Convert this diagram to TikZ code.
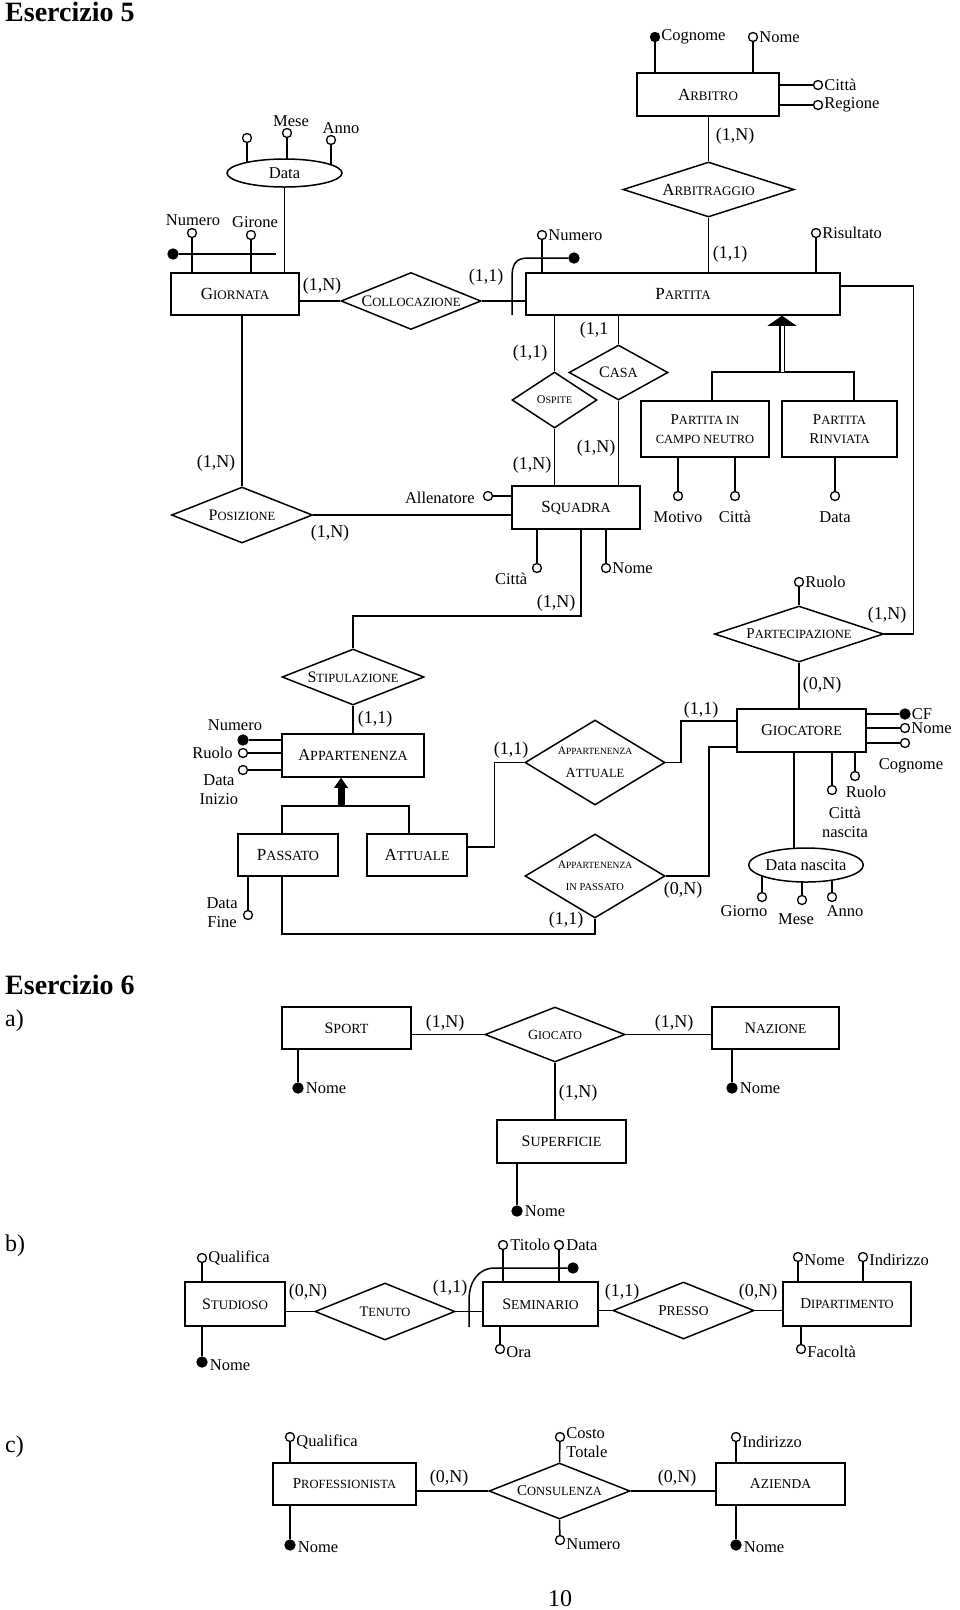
\documentclass[tikz,border=0pt]{standalone}
\usepackage{fontspec}
\setmainfont{Liberation Serif}
\usetikzlibrary{shapes.geometric,backgrounds,calc}
\newcommand\SCx[4]{{\fontsize{#1}{#1}\selectfont #3}{\fontsize{#2}{#2}\selectfont #4}}
\newcommand\SC[2]{\SCx{17}{13}{#1}{#2}}
\newcommand\labf{\fontsize{16.5}{19}\selectfont}
\newcommand\cardf{\fontsize{18}{18}\selectfont}
\newcommand\headf{\fontsize{28}{28}\selectfont\bfseries}
\newcommand\partf{\fontsize{24}{24}\selectfont}
\tikzset{
  ln/.style={line width=1.5pt},
  ent/.style={draw, rectangle, ln, fill=white, inner sep=0pt, align=center},
  rel/.style={draw, diamond, ln, fill=white, inner sep=0pt},
  ell/.style={draw, ellipse, ln, fill=white, inner sep=0pt, font=\labf},
  att/.style={draw, circle, line width=1.3pt, fill=white, inner sep=0pt, minimum size=9pt, label distance=2pt},
  katt/.style={att, fill=black},
  card/.style={font=\cardf, inner sep=0pt},
  every label/.append style={font=\labf, inner sep=1pt},
}
\begin{document}
\begin{tikzpicture}[x=1pt,y=-1pt]
\useasboundingbox (0,0) rectangle (960,1610);

% ================= Esercizio 5 =================
\node[anchor=base west, font=\headf, inner sep=0pt] (t5) at (5,21) {Esercizio 5};

% ARBITRO
\node[ent, minimum width=142pt, minimum height=43pt] (arbitro) at (708,94.5) {\SC{A}{RBITRO}};
\node[katt, label=right:Cognome] (acogn) at (655,37) {};
\node[att, label=right:Nome] (anome) at (753,37) {};
\node[att, label=right:Città] (acitta) at (818,85) {};
\node[att, label=right:Regione] (areg) at (818,105) {};
\node[rel, minimum width=171pt, minimum height=55pt, label=center:{\SC{A}{RBITRAGGIO}}] (arbitraggio) at (708.5,189.5) {};
\node[card] (c1) at (735,136) {(1,N)};
\node[card] (c2) at (730,254) {(1,1)};

% PARTITA
\node[ent, minimum width=314pt, minimum height=42pt] (partita) at (683,294) {\SC{P}{ARTITA}};
\node[att, label=right:Risultato] (risultato) at (816,233) {};
\node[att, label=right:Numero] (pnum) at (542,235) {};
\node[katt, minimum size=10pt] (pkey) at (574,258) {};
\coordinate (pkeyend) at (512,315);

% GIORNATA
\node[ent, minimum width=128pt, minimum height=42pt] (giornata) at (235,294) {\SC{G}{IORNATA}};
\node[ell, minimum width=115pt, minimum height=28pt] (data) at (284.5,173) {Data};
\node[att] (dd1) at (247,138) {};
\node[att, label={[xshift=4pt, label distance=0pt]above:Mese}] (dd2) at (287,133) {};
\node[att, label={[xshift=10pt, label distance=0pt]above:Anno}] (dd3) at (331,140) {};
\node[att, label={[xshift=1pt, label distance=1pt]above:Numero}] (gnum) at (192,233) {};
\node[att, label={[xshift=4pt, label distance=1pt]above:Girone}] (gir) at (251,235) {};
\node[katt, minimum size=10pt] (gkey) at (173,254) {};
\coordinate (gkeyend) at (276,254);

\node[rel, minimum width=140pt, minimum height=57pt, label=center:{\SCx{16}{12.5}{C}{OLLOCAZIONE}}] (coll) at (411,301) {};
\node[card] (c3) at (322,286) {(1,N)};
\node[card] (c4) at (486,277) {(1,1)};

% POSIZIONE
\node[rel, minimum width=141pt, minimum height=56pt, label=center:{\SCx{16}{12.5}{P}{OSIZIONE}}] (posizione) at (242,515) {};
\node[card] (c5) at (216,463) {(1,N)};
\node[card] (c6) at (330,533) {(1,N)};

% SQUADRA
\node[ent, minimum width=128pt, minimum height=43pt] (squadra) at (576,507.5) {\SCx{17}{14}{S}{QUADRA}};
\node[att, label={[label distance=7pt, yshift=-2pt]left:Allenatore}] (allen) at (488,496) {};
\node[att, label={[anchor=north east, xshift=-5pt, label distance=0pt]south west:Città}] (scitta) at (537,568) {};
\node[att, label=right:Nome] (snome) at (606,568) {};

% OSPITE, CASA
\node[rel, minimum width=85pt, minimum height=56pt, label=center:{\SCx{12}{10}{O}{SPITE}}] (ospite) at (554.5,400) {};
\node[rel, minimum width=99pt, minimum height=55pt, label=center:{\SCx{16}{14}{C}{ASA}}] (casa) at (618.5,372.5) {};
\node[card] (c7) at (530,353) {(1,1)};
\node[card] (c8) at (532,465) {(1,N)};
\node[card] (c9) at (594,330) {(1,1};
\node[card] (c10) at (596,448) {(1,N)};

% generalization of PARTITA
\node[ent, minimum width=128pt, minimum height=56pt] (pcn) at (705,429) {\SCx{15}{12.5}{P}{ARTITA IN}\\[7pt]\SCx{12.5}{12.5}{}{CAMPO NEUTRO}};
\node[ent, minimum width=115pt, minimum height=56pt] (pri) at (839.5,429) {\SCx{15}{12.7}{P}{ARTITA}\\[7pt]\SCx{15}{12.7}{R}{INVIATA}};
\coordinate (gbar) at (782,372);
\node[att, label={[label distance=9pt]below:Motivo}] (motivo) at (678,496) {};
\node[att, label={[label distance=9pt]below:Città}] (pcitta) at (735,496) {};
\node[att, label={[label distance=9pt]below:Data}] (pdata) at (835,496) {};

% PARTECIPAZIONE
\node[rel, minimum width=169pt, minimum height=56pt, label=center:{\SCx{15}{12.5}{P}{ARTECIPAZIONE}}] (partecip) at (799,634) {};
\node[att, label=right:Ruolo] (pruolo) at (799,582) {};
\node[card] (c11) at (887,615) {(1,N)};
\node[card] (c12) at (822,685) {(0,N)};

% GIOCATORE
\node[ent, minimum width=129pt, minimum height=43pt] (giocatore) at (801.5,730.5) {\SCx{16.5}{14}{G}{IOCATORE}};
\node[katt, minimum size=10pt, label=right:CF] (gcf) at (905,714) {};
\node[att, label=right:Nome] (gnome) at (905,728) {};
\node[att, label={[label distance=9pt, xshift=6pt]below:Cognome}] (gcogn) at (905,743) {};
\node[att, label={[label distance=4pt, xshift=11pt]below:Ruolo}] (gruolo) at (855,776) {};
\node[att, label={[align=center, label distance=11pt, xshift=13pt]below:{Città\\nascita}}] (gcitta) at (832,790) {};
\node[ell, minimum width=114pt, minimum height=34pt] (dn) at (806,865) {Data nascita};
\node[att, label={[label distance=2pt, xshift=-18pt]below:Giorno}] (dn1) at (762,897) {};
\node[att, label={[label distance=7pt, xshift=-6pt]below:Mese}] (dn2) at (802,900) {};
\node[att, label={[label distance=2pt, xshift=13pt]below:Anno}] (dn3) at (832,897) {};

% APPARTENENZA ATTUALE / IN PASSATO
\node[rel, minimum width=140pt, minimum height=85pt, label={[align=center]center:{\SCx{11.5}{9.5}{A}{PPARTENENZA}\\[4pt]\SCx{14}{12.5}{A}{TTUALE}}}] (aatt) at (595,762.5) {};
\node[rel, minimum width=140pt, minimum height=84pt, label={[align=center]center:{\SCx{11.5}{9.5}{A}{PPARTENENZA}\\[3pt]\SCx{10.5}{10.5}{}{IN PASSATO}}}] (apass) at (595,876) {};
\node[card] (c13) at (701,710) {(1,1)};
\node[card] (c14) at (511,750) {(1,1)};
\node[card] (c15) at (683,890) {(0,N)};
\node[card] (c16) at (566,920) {(1,1)};

% STIPULAZIONE / APPARTENENZA
\node[rel, minimum width=142pt, minimum height=56pt, label=center:{\SCx{16}{12.5}{S}{TIPULAZIONE}}] (stip) at (353,677) {};
\node[card] (c17) at (556,603) {(1,N)};
\node[card] (c18) at (375,719) {(1,1)};
\node[ent, minimum width=142pt, minimum height=43pt] (appart) at (353,755.5) {\SCx{16.5}{14}{A}{PPARTENENZA}};
\node[katt, minimum size=10pt, label={[label distance=3pt, xshift=-8pt]above:Numero}] (anum) at (243,740) {};
\node[att, label={[label distance=4pt]left:Ruolo}] (aruolo) at (243,753) {};
\node[att, label={[align=center, anchor=north east, label distance=0pt]south west:{Data\\Inizio}}] (adi) at (243,770) {};
\coordinate (gbar2) at (341,806);
\node[ent, minimum width=100pt, minimum height=42pt] (passato) at (288,855) {\SCx{17}{14}{P}{ASSATO}};
\node[ent, minimum width=100pt, minimum height=42pt] (attuale) at (417,855) {\SCx{17}{13.5}{A}{TTUALE}};
\node[att, label={[align=center, label distance=4pt, yshift=2pt]left:{Data\\Fine}}] (pfine) at (248,915) {};

% ================= Esercizio 6 =================
\node[anchor=base west, font=\headf, inner sep=0pt] (t6) at (5,994) {Esercizio 6};
\node[anchor=base west, font=\partf, inner sep=0pt] (pa) at (5,1026) {a)};
\node[anchor=base west, font=\partf, inner sep=0pt] (pb) at (5,1251) {b)};
\node[anchor=base west, font=\partf, inner sep=0pt] (pc) at (5,1452) {c)};
\node[font=\partf, inner sep=0pt] (pageno) at (560,1599) {10};

% a)
\node[ent, minimum width=129pt, minimum height=42pt] (sport) at (346.5,1028) {\SCx{16}{14}{S}{PORT}};
\node[rel, minimum width=140pt, minimum height=55pt, label=center:{\SCx{14}{12}{G}{IOCATO}}] (giocato) at (555,1034.5) {};
\node[ent, minimum width=127pt, minimum height=42pt] (nazione) at (775.5,1028) {\SCx{16}{13.5}{N}{AZIONE}};
\node[ent, minimum width=129pt, minimum height=43pt] (superficie) at (561.5,1141.5) {\SCx{16}{14}{S}{UPERFICIE}};
\node[card] (c19) at (445,1023) {(1,N)};
\node[card] (c20) at (674,1023) {(1,N)};
\node[card] (c21) at (578,1093) {(1,N)};
\node[katt, minimum size=10pt, label={[label distance=1pt]right:Nome}] (spnome) at (298,1088) {};
\node[katt, minimum size=10pt, label={[label distance=1pt]right:Nome}] (naznome) at (732,1088) {};
\node[katt, minimum size=10pt, label={[label distance=1pt]right:Nome}] (supnome) at (517,1211) {};

% b)
\node[ent, minimum width=100pt, minimum height=44pt] (studioso) at (235,1304) {\SCx{16}{13}{S}{TUDIOSO}};
\node[att, label=right:Qualifica] (stqual) at (202,1258) {};
\node[katt, minimum size=10pt, label={[label distance=1pt, yshift=-3pt]right:Nome}] (stnome) at (202,1362) {};
\node[rel, minimum width=140pt, minimum height=57pt, label=center:{\SCx{14.5}{12.5}{T}{ENUTO}}] (tenuto) at (385,1311.5) {};
\node[ent, minimum width=115pt, minimum height=44pt] (seminario) at (540.5,1304) {\SCx{16}{13.5}{S}{EMINARIO}};
\node[att, label={[label distance=1pt]right:Titolo}] (stit) at (503,1245) {};
\node[att, label={[label distance=1pt]right:Data}] (sdata) at (559,1245) {};
\node[katt, minimum size=10pt] (skey) at (573,1268) {};
\coordinate (skeyend) at (469,1327);
\node[att, label={[yshift=-3pt]right:Ora}] (sora) at (500,1349) {};
\node[rel, minimum width=141pt, minimum height=57pt, label=center:{\SCx{15}{13.5}{P}{RESSO}}] (presso) at (683.5,1310.5) {};
\node[ent, minimum width=128pt, minimum height=44pt] (dipart) at (847,1304) {\SCx{15}{12.5}{D}{IPARTIMENTO}};
\node[att, label={[yshift=-3pt]right:Nome}] (dnome) at (798,1257) {};
\node[att, label={[yshift=-3pt]right:Indirizzo}] (dind) at (863,1257) {};
\node[att, label={[yshift=-3pt]right:Facoltà}] (dfac) at (801,1349) {};
\node[card] (c22) at (308,1292) {(0,N)};
\node[card] (c23) at (450,1288) {(1,1)};
\node[card] (c24) at (622,1292) {(1,1)};
\node[card] (c25) at (758,1292) {(0,N)};

% c)
\node[ent, minimum width=143pt, minimum height=42pt] (prof) at (344.5,1484) {\SCx{15}{12.5}{P}{ROFESSIONISTA}};
\node[att, label={[yshift=-5pt]right:Qualifica}] (pqual) at (290,1437) {};
\node[katt, minimum size=10pt, label={[label distance=1pt, yshift=-2pt]right:Nome}] (pnome) at (290,1545) {};
\node[rel, minimum width=141pt, minimum height=56pt, label=center:{\SCx{15}{12.5}{C}{ONSULENZA}}] (consul) at (559.5,1491) {};
\node[att, label={[align=left, yshift=-6pt]right:{Costo\\Totale}}] (ccosto) at (560,1437) {};
\node[att, label={[yshift=-4pt]right:Numero}] (cnum) at (560,1540) {};
\node[ent, minimum width=129pt, minimum height=42pt] (azienda) at (780.5,1484) {\SCx{15}{13.5}{A}{ZIENDA}};
\node[att, label={[yshift=-5pt]right:Indirizzo}] (azind) at (736,1437) {};
\node[katt, minimum size=10pt, label={[label distance=1pt, yshift=-2pt]right:Nome}] (aznome) at (736,1545) {};
\node[card] (c26) at (449,1478) {(0,N)};
\node[card] (c27) at (677,1478) {(0,N)};

% ================= connectors =================
\begin{pgfonlayer}{background}
\fill[white] (0,0) rectangle (960,1610);
% arbitro
\draw[ln] (acogn) -- (acogn |- arbitro.north);
\draw[ln] (anome) -- (anome |- arbitro.north);
\draw[ln] (acitta) -- (acitta -| arbitro.east);
\draw[ln] (areg) -- (areg -| arbitro.east);
\draw[ln] (arbitraggio.north) -- (arbitraggio.north |- arbitro.south);
\draw[ln] (arbitraggio.south) -- (arbitraggio.south |- partita.north);
% partita
\draw[ln] (risultato) -- (risultato |- partita.north);
\draw[ln] (pnum) -- (pnum |- partita.north);
\draw[ln] (pkey) -- (528,258) .. controls (515,258) and (512,265) .. (512,278) -- (pkeyend);
% giornata
\draw[ln] (coll.west) -- (coll.west -| giornata.east);
\draw[ln] (coll.east) -- (coll.east -| partita.west);
\draw[ln] (data.south) -- (data.south |- giornata.north);
\draw[ln] (dd1) -- (dd1 |- data.center);
\draw[ln] (dd2) -- (dd2 |- data.center);
\draw[ln] (dd3) -- (dd3 |- data.center);
\draw[ln] (gnum) -- (gnum |- giornata.north);
\draw[ln] (gir) -- (gir |- giornata.north);
\draw[ln] (gkey) -- (gkeyend);
% posizione
\draw[ln] (posizione.north) -- (posizione.north |- giornata.south);
\draw[ln] (posizione.east) -- (posizione.east -| squadra.west);
% squadra
\draw[ln] (allen) -- (allen -| squadra.west);
\draw[ln] (scitta) -- (scitta |- squadra.south);
\draw[ln] (snome) -- (snome |- squadra.south);
\draw[ln] (ospite.north) -- (ospite.north |- partita.south);
\draw[ln] (ospite.south) -- (ospite.south |- squadra.north);
\draw[ln] (casa.north) -- (casa.north |- partita.south);
\draw[ln] (casa.south) -- (casa.south |- squadra.north);
% generalization partita
\draw[ln] ([xshift=7pt]pcn.north) |- (gbar) -| ([xshift=14.5pt]pri.north);
\draw[line width=1.3pt, double, double distance=3pt] (gbar) -- ([yshift=-8pt]gbar |- partita.south);
\draw[ln] (motivo) -- (motivo |- pcn.south);
\draw[ln] (pcitta) -- (pcitta |- pcn.south);
\draw[ln] (pdata) -- (pdata |- pri.south);
% partecipazione
\draw[ln] ([yshift=8pt]partita.east) -| ([xshift=29pt]partecip.east) -- (partecip.east);
\draw[ln] (pruolo) -- (partecip.north);
\draw[ln] (partecip.south) -- (partecip.south |- giocatore.north);
% giocatore
\draw[ln] (gcf) -- (gcf -| giocatore.east);
\draw[ln] (gnome) -- (gnome -| giocatore.east);
\draw[ln] (gcogn) -- (gcogn -| giocatore.east);
\draw[ln] (gruolo) -- (gruolo |- giocatore.south);
\draw[ln] (gcitta) -- (gcitta |- giocatore.south);
\draw[ln] ([xshift=-7.5pt]giocatore.south) -- ([xshift=-7.5pt]giocatore.south |- dn.center);
\draw[ln] (dn1) -- (dn1 |- dn.center);
\draw[ln] (dn2) -- (dn2 |- dn.center);
\draw[ln] (dn3) -- (dn3 |- dn.center);
% appartenenza attuale / passato
\draw[ln] (aatt.east) -- ++(15,0) |- ([yshift=9.5pt]giocatore.west);
\draw[ln] (aatt.west) -- ++(-30,0) |- ([yshift=8pt]attuale.east);
\draw[ln] (apass.east) -- ++(43,0) |- ([yshift=-16.5pt]giocatore.west);
\draw[ln] (apass.south) -- ++(0,15) -| ([xshift=-6pt]passato.south);
% stipulazione
\draw[ln] ([xshift=5pt]squadra.south) -- ++(0,86) -| (stip.north);
\draw[ln] (stip.south) -- (stip.south |- appart.north);
\draw[ln] (anum) -- (anum -| appart.west);
\draw[ln] (aruolo) -- (aruolo -| appart.west);
\draw[ln] (adi) -- (adi -| appart.west);
\draw[ln] ([xshift=-6pt]passato.north) |- (gbar2) -| ([xshift=-8pt]attuale.north);
\draw[ln] (pfine) -- (pfine |- passato.south);
% a)
\draw[ln] (giocato.west) -- (giocato.west -| sport.east);
\draw[ln] (giocato.east) -- (giocato.east -| nazione.west);
\draw[ln] (giocato.south) -- (giocato.south |- superficie.north);
\draw[ln] (spnome) -- (spnome |- sport.south);
\draw[ln] (naznome) -- (naznome |- nazione.south);
\draw[ln] (supnome) -- (supnome |- superficie.south);
% b)
\draw[ln] (stqual) -- (stqual |- studioso.north);
\draw[ln] (stnome) -- (stnome |- studioso.south);
\draw[ln] (tenuto.west) -- (tenuto.west -| studioso.east);
\draw[ln] (tenuto.east) -- (tenuto.east -| seminario.west);
\draw[ln] (stit) -- (stit |- seminario.north);
\draw[ln] (sdata) -- (sdata |- seminario.north);
\draw[ln] (skey) -- (495,1268) .. controls (478,1268) and (469,1282) .. (469,1300) -- (skeyend);
\draw[ln] (sora) -- (sora |- seminario.south);
\draw[ln] (presso.west) -- (presso.west -| seminario.east);
\draw[ln] (presso.east) -- (presso.east -| dipart.west);
\draw[ln] (dnome) -- (dnome |- dipart.north);
\draw[ln] (dind) -- (dind |- dipart.north);
\draw[ln] (dfac) -- (dfac |- dipart.south);
% c)
\draw[ln] (pqual) -- (pqual |- prof.north);
\draw[ln] (pnome) -- (pnome |- prof.south);
\draw[ln] (consul.west) -- (consul.west -| prof.east);
\draw[ln] (consul.east) -- (consul.east -| azienda.west);
\draw[ln] (ccosto) -- (consul.north);
\draw[ln] (cnum) -- (consul.south);
\draw[ln] (azind) -- (azind |- azienda.north);
\draw[ln] (aznome) -- (aznome |- azienda.south);
\end{pgfonlayer}

% arrowheads of generalizations
\fill (gbar |- partita.south) -- ++(-14.5,10) -- ++(29,0) -- cycle;
\fill ([xshift=-12pt]appart.south) -- ++(-7,10) -- ++(14,0) -- cycle;
\fill ([xshift=-15.5pt, yshift=-9pt]appart.south) rectangle ([xshift=-8.5pt]appart.south |- gbar2);
\end{tikzpicture}
\end{document}
